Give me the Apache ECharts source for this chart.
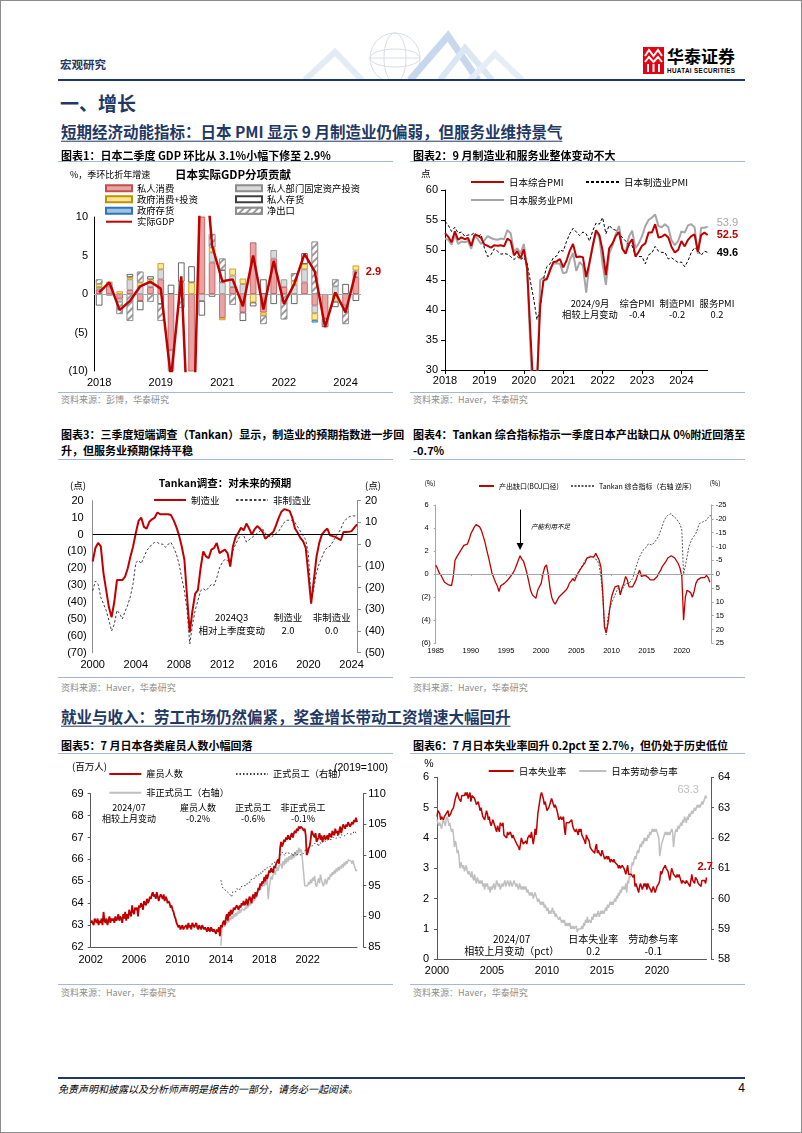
<!DOCTYPE html>
<html><head><meta charset="utf-8">
<script src="https://cdn.jsdelivr.net/npm/echarts/dist/echarts.min.js"></script>
<style>
html,body{margin:0;padding:0;background:#fff;}
#page{position:relative;width:802px;height:1133px;overflow:hidden;background:#fff;font-family:"Noto Sans CJK SC","Liberation Sans",sans-serif;}
.t{position:absolute;white-space:nowrap;line-height:1.2;color:#000;z-index:5;}
.ln{position:absolute;z-index:4;}
.ch{position:absolute;z-index:2;}
#frame{position:absolute;left:0;top:0;width:802px;height:1133px;box-sizing:border-box;border:1px solid #8c8c8c;z-index:10;pointer-events:none;}
</style></head><body>
<div id="page">
<div id="frame"></div>
<svg style="position:absolute;left:300px;top:28px;z-index:1" width="240" height="52">
 <polyline points="5,52 35,24 62,52" fill="none" stroke="#e3ebf5" stroke-width="6"/>
 <circle cx="95" cy="30" r="25" fill="none" stroke="#d9dee6" stroke-width="1"/>
 <ellipse cx="95" cy="30" rx="11" ry="25" fill="none" stroke="#d9dee6"/>
 <ellipse cx="95" cy="30" rx="25" ry="9" fill="none" stroke="#d9dee6"/>
 <line x1="70" y1="30" x2="120" y2="30" stroke="#d9dee6"/>
 <polyline points="110,52 148,8 178,52" fill="none" stroke="#c7d8ee" stroke-width="7"/>
 <polyline points="140,52 165,20 192,52" fill="none" stroke="#dbe6f3" stroke-width="6"/>
 <polyline points="170,52 195,26 222,52" fill="none" stroke="#e6edf6" stroke-width="6"/>
</svg>
<svg style="position:absolute;left:643px;top:47px;z-index:3" width="21" height="27">
 <rect x="0" y="0" width="21" height="27" fill="#E60012"/>
 <polyline points="2,9 6,3 10.5,9 15,3 19,9" fill="none" stroke="#fff" stroke-width="2"/>
 <polyline points="2,15 6,10 10.5,15 15,10 19,15" fill="none" stroke="#fff" stroke-width="2"/>
 <rect x="4" y="17" width="2" height="8" fill="#fff"/><rect x="9.5" y="17" width="2" height="8" fill="#fff"/><rect x="15" y="17" width="2" height="8" fill="#fff"/>
</svg>
<div id="c1" class="ch" style="left:58px;top:162px;width:337px;height:228px"></div>
<div id="c2" class="ch" style="left:410px;top:162px;width:335px;height:228px"></div>
<div id="c3" class="ch" style="left:58px;top:462px;width:337px;height:214px"></div>
<div id="c4" class="ch" style="left:410px;top:462px;width:335px;height:214px"></div>
<div id="c5" class="ch" style="left:58px;top:754px;width:337px;height:228px"></div>
<div id="c6" class="ch" style="left:410px;top:754px;width:335px;height:228px"></div>
</div>
<script>
// ================= DATA =================
// Chart 1: Japan real GDP contributions, 2018Q1..2024Q2 (% qoq saar)
const c1Cons   = [0.6, 1.0, -0.6, 0.5, -0.9, 0.9, 1.9, -7.3, null, -18, 18, 4.1, -3.1, 0.9, -2.4, 6.7, -2.4, 4.6, 0.9, null, 1.5, -1.5, -3.2, null, -1.5, 2.2];
const c1Inv    = [0.3, 0.4, -0.4, 1.4, 1.0, 0.5, 1.3, -3.0, 1.5, -4, -0.9, 1.3, 1.5, 1.5, 1.3, null, null, 1.1, 1.0, 1.2, 1.7, -1.0, null, 1.0, null, 0.85];
const c1Gov    = [0.4, 0.2, 0.35, 0.3, 0.5, 0.5, 0.8, null, 0.1, 1.5, 1.0, 0.65, -0.3, 0.9, 0.7, -1.1, -0.4, null, null, 0.5, 0.7, -0.9, null, -1.0, null, 0.65];
const c1Stock  = [-1.5, null, null, 0.4, -1.2, 0.4, -1.3, 1.2, 2.5, 2.1, -1.9, -0.35, 1.6, null, -1.1, -0.5, 1.9, -1.3, null, -1.3, 1.4, null, -1.1, -0.7, 1.3, -0.9];
const c1GovStk = [null, null, null, null, null, null, null, null, null, null, null, null, null, null, null, null, null, null, null, null, null, -0.3, null, null, null, null];
const c1Nx     = [0.6, -0.2, -1.6, -3.5, 1.4, -1.0, -2.2, null, -1.8, -8, 5, 1.75, 1.5, -1.4, null, null, -1.1, null, -3.3, 1.0, null, 6.8, null, 0.9, -2.4, null];
const c1Gdp    = [0.2, 1.5, -2.1, -0.9, 1.0, 1.6, 0.7, -11, 2.3, -28, 22, 6.3, 1.65, 1.9, -1.6, 5.0, -2.0, 4.3, -1.3, 1.3, 5.2, 2.9, -4.3, 0.2, -2.4, 2.9];

// Chart 2: PMI, 2018-01..2024-09
const c2Comp = [52.8,52.2,51.3,53.1,51.7,52.1,51.8,52.0,50.7,52.5,52.4,52.0,
 50.9,50.7,50.4,50.8,50.7,50.8,50.6,51.9,51.5,49.1,49.8,48.6,
 50.1,47.0,36.2,25.8,27.8,40.8,44.9,45.2,46.6,48.0,48.1,48.5,
 47.1,48.2,49.9,51.0,48.8,48.9,48.8,45.5,47.9,50.7,53.3,52.5,
 49.9,45.8,50.3,51.1,52.3,53.0,50.2,49.4,51.0,51.8,48.9,49.7,
 50.7,51.1,52.9,52.9,54.3,52.1,52.2,52.6,52.1,50.5,49.6,50.0,
 51.5,50.6,51.7,52.3,52.6,49.7,52.5,52.9,52.5];
const c2Mfg = [54.8,54.1,53.1,53.8,52.8,53.0,52.3,52.5,52.5,52.9,52.2,52.6,
 50.3,48.9,49.2,50.2,49.8,49.3,49.4,49.3,48.9,48.4,48.9,48.4,
 48.8,47.8,44.8,41.9,38.4,40.1,45.2,47.2,47.7,48.7,49.0,50.0,
 49.8,51.4,52.7,53.6,53.0,52.4,53.0,52.7,51.5,53.2,54.5,54.3,
 55.4,52.7,54.1,53.5,53.3,52.7,52.1,51.5,50.8,50.7,49.0,48.9,
 48.9,47.7,49.2,49.5,50.6,49.8,49.6,49.6,48.5,48.7,48.3,47.9,
 48.0,47.2,48.2,49.6,50.4,50.0,49.1,49.8,49.6];
const c2Serv = [51.9,51.7,50.9,52.5,51.0,51.4,51.3,51.5,50.2,52.4,51.8,51.0,
 51.6,52.3,52.0,51.8,51.7,51.9,51.8,53.3,52.8,49.7,50.3,49.4,
 51.0,46.8,33.8,21.5,26.5,45.0,45.4,45.0,46.9,47.7,47.8,47.7,
 46.1,46.3,48.3,49.5,46.5,48.0,47.4,42.9,47.8,50.7,53.0,52.1,
 47.6,44.2,49.4,50.7,52.6,54.0,50.3,49.5,52.2,53.2,50.3,51.1,
 52.3,54.0,55.0,55.4,55.9,54.0,53.8,54.3,53.8,51.6,50.8,51.5,
 53.1,52.9,54.1,54.3,53.8,49.4,53.7,53.7,53.9];

// Chart 3: Tankan forecast DI, 2000Q1..2024Q3
const c3Mfg = [-16,-8,-5,-7, -23,-33,-43,-49, -40,-27,-27,-27, -25,-20,-13,-7,
 1,8,10,4.5, 3.5,7.5,9,10, 13,12,12,12, 12,11.5,8.5,4.5,
 -0.4,-7,-15,-37, -58,-45,-35,-33, -20,-10,-13,-14, -9,-8,-5,-11,
 -10,-9,-11,-19, -7,-1.5,1,4, 2.5,6.5,3.5,0, 3,5,3.5,1.5,
 -2.5,-1,0.2,1.6, 5.5,10,13.5,15, 14.5,14,10,3.5, 1,-2,-4,-8,
 -24,-41,-27,-13, -5,0,2,3.5, -0.5,-1,-1.4,-2.4, -3.4,1.5,1.5,1.6, 2,4,6];
const c3Non = [-21.5,-17,-18.5,-24.5, -27.5,-30.5,-35,-40, -37,-30.5,-32,-34.5, -31,-28,-24,-18,
 -8.5,-7.5,-9,-6, -3,-1.5,0,0.8, 0.8,0,0,-1.5, 0,0.8,-1.5,-4.5,
 -9,-15.5,-21.5,-30.5, -46,-37,-30.5,-26, -21.5,-20.5,-21.5,-20, -18.5,-19,-15.5,-11,
 -8.5,-7,-7.5,-9, -3,0,2.3,4.6, 4,1,2,3, 4,5,6,7,
 5,4,3,4, 5,6,8,10, 11,11,11,10, 8,6,4,2,
 -5,-26,-20,-13, -9,-6,-3,-1.5, -1,1,3,5, 7,10,11.5,12.5, 13,13,13];

// Chart 4: output gap (BOJ), 1985Q1..2024Q1 ; Tankan composite (right, inverted), 2004Q2..2024Q2
const c4Gap = [0.8,0.5,0.1,-0.1, -0.2,-0.7,-0.8,-0.9, -1.0,-1.0,-0.2,1.2, 1.5,1.6,2.0,2.1,
 2.5,2.6,2.6,3.0, 3.5,3.8,4.1,4.3, 4.3,4.1,3.8,3.3, 2.8,2.1,1.5,0.8,
 0.1,-0.3,-0.7,-1.0, -1.5,-1.0,-1.0,-0.8, -0.7,-0.5,-0.5,-0.1, 0.1,0.4,0.8,1.2,
 1.6,1.3,1.1,0.6, 0.0,-0.7,-1.4,-1.8, -1.9,-2.1,-1.4,-1.1, -0.8,0.0,0.6,0.8,
 0.0,-1.2,-2.0,-2.4, -2.6,-2.5,-2.0,-1.9, -1.7,-1.6,-1.4,-1.2, -0.8,-0.6,-0.4,-0.6,
 -0.2,0.1,0.35,0.6, 0.8,1.0,1.4,1.5, 1.5,1.6,1.5,1.8, 1.7,1.2,0.6,-1.5,
 -4.6,-5.1,-4.3,-3.0, -2.0,-1.5,-1.1,-1.0, -1.0,-1.8,-1.2,-0.8, -0.2,-0.5,-1.1,-1.2,
 -1.1,-0.8,-0.5,0.0, 0.35,-0.2,-0.2,-0.1, 0.0,-0.3,-0.5,-0.5, -0.5,-0.5,-0.2,0.1,
 0.35,0.7,0.9,1.1, 1.4,1.5,1.6,1.7, 1.4,1.3,0.9,0.5, -0.2,-4.0,-2.0,-1.4,
 -1.4,-1.6,-2.0,-1.5, -0.8,-0.5,-0.4,-0.3, -0.2,-0.3,-0.1,-0.3, -0.7];
const c4Tankan = [2.5,1.8,1.2, 0.5,-0.5,-1.5,-2.5, -3.9,-5.0,-5.5,-6.5, -6.9,-6.5,-5.7,-5.5,
 -5.0,-3.0,1.0,8.0, 17.8,22.0,15.4,12.5, 10.6,9.0,7.6,6.0, 4.6,7.0,5.8,4.5,
 3.4,3.0,3.4,3.0, 1.6,-0.5,-2.7,-4.5, -6.3,-7.5,-8.7,-9.0, -9.9,-11.0,-11.7,-10.5,
 -11.0,-12.0,-12.9,-14.0, -15.9,-17.5,-19.5,-20.5, -21.3,-21.0,-21.9,-21.0, -20.7,-20.0,-19.5,-18.0,
 -15.9,0.0,-3.0,-6.3, -9.9,-11.5,-12.9,-13.5, -14.7,-16.5,-18.3,-18.5, -18.9,-19.0,-19.5,-20.5, -21.3,-20.7];

// Chart 5: employees (mn), 2002-01..2024-07 ; regular / non-regular (2019=100), 2013-01..2024-07
const c5Emp = [63.1,63.2,63.2,63.0,63.3,63.2,63.1,63.3,63.0,63.2,63.1,63.3,
 63.0,63.6,63.2,63.1,63.3,63.0,63.2,63.4,63.1,63.3,63.2,63.3,
 63.1,63.4,63.2,63.3,63.5,63.2,63.4,63.3,63.1,63.5,63.3,63.6,
 63.2,63.5,63.3,63.7,63.5,63.4,63.9,63.6,63.5,63.8,63.7,63.8,
 63.4,63.9,63.8,64.0,63.9,63.7,64.1,64.0,63.9,64.2,64.0,64.1,
 64.3,64.2,64.4,64.5,64.3,64.4,64.2,64.5,64.3,64.1,64.3,64.4,
 64.3,64.2,64.4,64.1,64.3,64.2,64.0,64.1,64.0,63.8,63.9,63.7,
 63.6,63.4,63.3,63.1,63.0,62.9,63.0,62.8,62.9,63.0,62.8,62.9,
 62.9,63.0,62.8,63.1,62.9,63.0,62.8,63.1,63.0,62.9,63.0,63.1,
 62.9,62.8,63.0,62.9,62.8,63.0,62.9,62.8,62.9,62.8,62.7,62.9,
 62.8,62.7,62.9,62.8,62.7,62.8,62.7,62.6,62.8,62.7,62.9,62.5,
 63.0,62.9,63.1,63.2,63.0,63.3,63.5,63.2,63.6,63.4,63.7,63.5,
 63.6,63.8,63.7,63.7,63.9,63.8,63.7,63.9,63.8,64.0,63.9,64.1,
 63.9,64.0,64.2,63.9,64.1,64.3,64.2,64.0,64.3,64.4,64.2,64.5,
 64.3,64.5,64.7,64.6,64.9,64.8,65.0,64.9,65.2,65.0,65.3,65.1,
 65.3,65.5,65.4,65.6,65.5,65.4,65.7,65.6,65.8,65.9,66.0,65.8,
 66.5,66.8,66.6,66.7,66.9,66.8,67.0,66.9,67.1,67.0,66.9,67.1,
 67.2,67.0,67.2,67.3,67.2,67.4,67.3,67.5,67.4,67.5,67.5,67.4,
 67.3,67.4,67.1,66.2,66.3,66.5,66.6,66.9,67.3,67.2,67.1,67.0,
 67.2,66.8,66.9,67.0,67.2,66.9,67.1,66.8,67.0,67.1,66.9,67.0,
 67.1,66.9,67.2,67.1,67.0,67.3,67.2,67.1,67.4,67.2,67.3,67.1,
 67.3,67.5,67.2,67.4,67.6,67.5,67.4,67.6,67.5,67.7,67.6,67.5,
 67.6,67.7,67.6,67.8,67.7,67.9,67.7];
const c5Reg = [95.9,95.2,94.6,94.3,94.8,94.2,94.0,94.5,93.8,94.1,93.5,93.2,
 94.0,93.8,94.3,94.0,94.5,94.2,94.6,94.3,94.8,94.5,94.9,95.0,
 94.8,95.2,95.0,95.5,95.3,95.8,95.6,96.1,95.9,96.4,96.2,96.6,
 96.4,96.8,96.6,97.1,96.9,97.3,97.0,97.6,97.4,97.8,97.6,98.0,
 97.9,98.3,98.1,98.5,98.4,98.8,98.6,99.0,98.9,99.3,99.1,99.5,
 99.3,99.8,100.5,100.2,100.6,99.9,100.4,100.1,100.7,100.3,100.0,100.5,
 100.2,99.8,100.1,100.4,100.0,99.9,100.3,100.1,99.8,100.2,100.0,99.9,
 100.3,100.5,101.0,100.8,101.3,101.0,101.5,101.2,101.8,101.5,101.2,101.9,
 101.6,102.1,101.8,101.4,102.0,101.7,102.2,101.9,102.4,102.1,102.5,102.2,
 102.0,102.6,102.3,102.8,102.5,102.2,102.9,102.6,103.0,102.7,103.2,102.9,
 103.1,102.8,103.3,103.0,103.4,103.1,102.8,103.3,103.5,103.2,103.6,103.4,
 103.2,103.7,103.5,103.9,104.1,103.8,103.5];
const c5NonReg = [85.2,88.0,88.5,89.0,88.3,89.2,88.8,89.5,89.0,89.8,89.4,90.0,
 89.6,90.3,89.9,90.5,90.1,90.8,90.4,91.0,90.6,91.2,90.9,91.5,
 91.0,91.6,91.2,91.9,91.5,92.2,91.8,92.6,92.1,93.0,92.5,93.4,
 93.0,93.8,94.5,95.0,94.3,95.2,94.8,95.5,94.9,95.8,95.2,96.0,
 92.8,94.5,95.8,96.5,96.0,97.0,97.5,96.8,97.6,98.0,97.4,98.2,
 98.0,98.6,97.8,99.0,98.3,99.4,98.6,99.6,98.9,99.8,99.2,100.0,
 99.3,100.2,99.5,100.5,99.8,100.8,100.1,101.2,100.4,101.0,100.5,100.2,
 100.2,95.0,94.8,95.3,95.0,95.6,95.2,96.0,95.4,96.3,95.8,96.6,
 95.2,94.8,95.6,96.2,95.4,96.8,96.0,95.3,94.9,95.6,96.1,95.2,
 95.8,96.4,96.0,96.9,96.5,97.2,96.8,97.5,97.0,97.8,97.3,98.0,
 97.5,98.2,97.8,98.5,98.0,98.8,98.3,99.0,98.6,99.2,98.9,99.3,
 99.0,98.6,99.1,98.4,97.9,97.4,97.6];
const c5Ticks = ['2002','2006','2010','2014','2018','2022'];

// Chart 6: unemployment rate (%) and labour participation (%), 2000-01..2024-07
const c6Unemp = [4.7,4.9,4.9,4.8,4.6,4.7,4.7,4.6,4.7,4.7,4.8,4.8,
 4.9,4.7,4.7,4.8,4.9,4.9,5.0,5.0,5.3,5.4,5.5,5.5,
 5.3,5.3,5.2,5.4,5.4,5.4,5.4,5.5,5.4,5.5,5.3,5.4,
 5.5,5.2,5.4,5.4,5.4,5.3,5.3,5.1,5.1,5.2,5.2,4.9,
 5.0,5.0,4.7,4.7,4.6,4.6,4.9,4.8,4.6,4.7,4.5,4.4,
 4.5,4.6,4.5,4.4,4.4,4.2,4.4,4.3,4.2,4.5,4.5,4.4,
 4.5,4.1,4.1,4.1,4.0,4.2,4.1,4.1,4.2,4.1,4.0,4.1,
 4.0,4.0,4.0,3.8,3.8,3.7,3.6,3.8,4.0,4.0,3.8,3.8,
 3.8,3.9,3.8,4.0,4.0,4.1,4.0,4.2,4.0,3.8,4.0,4.3,
 4.1,4.4,4.8,5.0,5.2,5.4,5.5,5.4,5.3,5.1,5.2,5.2,
 4.9,4.9,5.0,5.1,5.2,5.3,5.2,5.1,5.0,5.1,5.1,4.9,
 4.9,4.6,4.6,4.7,4.6,4.6,4.7,4.3,4.1,4.5,4.5,4.5,
 4.5,4.5,4.5,4.6,4.4,4.3,4.3,4.2,4.3,4.2,4.1,4.3,
 4.2,4.3,4.1,4.1,4.1,3.9,3.8,4.1,4.0,4.0,3.9,3.7,
 3.7,3.6,3.6,3.6,3.5,3.7,3.8,3.5,3.6,3.5,3.5,3.4,
 3.6,3.5,3.4,3.3,3.3,3.4,3.3,3.4,3.4,3.2,3.3,3.3,
 3.2,3.3,3.2,3.2,3.2,3.1,3.0,3.1,3.0,3.0,3.1,3.1,
 3.0,2.9,2.8,2.8,3.1,2.8,2.8,2.8,2.8,2.8,2.7,2.8,
 2.4,2.5,2.5,2.5,2.2,2.4,2.5,2.4,2.3,2.4,2.5,2.4,
 2.5,2.3,2.5,2.4,2.4,2.3,2.2,2.2,2.4,2.4,2.2,2.2,
 2.4,2.4,2.5,2.6,2.9,2.8,2.9,3.0,3.0,3.1,3.0,3.0,
 2.9,2.9,2.6,2.8,3.0,2.9,2.8,2.8,2.8,2.7,2.8,2.7,
 2.8,2.7,2.6,2.5,2.6,2.6,2.6,2.5,2.6,2.6,2.5,2.5,
 2.4,2.6,2.8,2.6,2.6,2.5,2.7,2.7,2.6,2.5,2.5,2.5,
 2.4,2.6,2.6,2.6,2.6,2.5,2.7];
const c6Part = [62.6,62.5,62.4,62.5,62.4,62.3,62.5,62.6,62.5,62.4,62.6,62.7,
 62.6,62.4,62.5,62.3,62.2,62.3,62.1,61.7,61.9,61.8,61.5,61.6,
 61.4,61.0,61.2,61.1,61.0,61.1,60.9,61.0,61.1,60.9,60.8,60.9,
 60.8,60.7,60.9,60.7,60.6,60.8,60.6,60.5,60.7,60.6,60.5,60.6,
 60.5,60.6,60.4,60.5,60.3,60.5,60.4,60.5,60.3,60.4,60.2,60.4,
 60.3,60.4,60.5,60.3,60.4,60.6,60.5,60.4,60.5,60.3,60.4,60.5,
 60.4,60.5,60.6,60.4,60.5,60.6,60.5,60.4,60.6,60.5,60.4,60.5,
 60.6,60.5,60.4,60.5,60.4,60.3,60.5,60.4,60.3,60.4,60.3,60.4,
 60.3,60.4,60.2,60.3,60.2,60.1,60.2,60.1,60.2,60.0,60.1,60.2,
 60.1,60.0,59.9,60.0,59.9,59.8,59.9,59.8,59.9,59.7,59.8,59.7,
 59.6,59.7,59.5,59.6,59.5,59.6,59.7,59.5,59.6,59.4,59.5,59.4,
 59.4,59.3,59.4,59.3,59.2,59.3,59.2,59.3,59.1,59.2,59.1,59.2,
 59.1,59.2,59.0,59.1,59.0,59.1,59.0,59.0,59.1,58.9,59.0,59.0,
 58.95,59.0,59.1,59.0,59.2,59.1,59.3,59.2,59.4,59.2,59.3,59.3,
 59.2,59.4,59.3,59.5,59.4,59.5,59.4,59.5,59.6,59.4,59.5,59.6,
 59.5,59.6,59.5,59.6,59.7,59.6,59.8,59.7,59.8,59.9,59.8,59.9,
 59.8,59.9,60.0,59.9,60.1,60.0,60.2,60.1,60.3,60.2,60.4,60.3,
 60.4,60.3,60.5,60.2,60.6,60.5,60.8,60.7,61.0,61.2,61.1,61.3,
 61.4,61.3,61.5,61.6,61.5,61.7,61.8,61.7,61.9,61.8,62.0,61.9,
 62.0,61.9,62.1,62.0,62.2,62.1,62.2,62.3,62.2,62.3,62.2,62.3,
 62.2,62.1,62.0,61.4,61.6,61.8,61.9,62.0,62.1,62.2,62.1,62.2,
 62.1,62.2,62.1,62.2,62.3,62.2,61.7,62.0,62.2,62.3,62.2,62.4,
 62.3,62.4,62.5,62.4,62.6,62.5,62.7,62.6,62.5,62.7,62.6,62.8,
 62.7,62.8,62.9,62.8,62.9,63.0,62.9,63.0,63.1,63.0,63.1,63.0,
 63.1,63.2,63.1,63.2,63.3,63.4,63.3];

// ================= CATEGORIES =================
function quarters(y0, q0, y1, q1) { const a = []; for (let y = y0; y <= y1; y++) for (let q = 1; q <= 4; q++) { if (y === y0 && q < q0) continue; if (y === y1 && q > q1) break; a.push(y + 'Q' + q); } return a; }
function months(y0, y1, m1) { const a = []; for (let y = y0; y <= y1; y++) for (let m = 1; m <= 12; m++) { if (y === y1 && m > m1) break; a.push(y + '-' + (m < 10 ? '0' : '') + m); } return a; }
const c1Cats = quarters(2018, 1, 2024, 2);
const c2Cats = months(2018, 2024, 9);
const c3Cats = quarters(2000, 1, 2024, 3);
const c4Cats = quarters(1985, 1, 2024, 2);
const c5Cats = months(2002, 2024, 7);
const c6Cats = months(2000, 2024, 7);
const pad = n => new Array(n).fill(null);

// ================= PAGE TEXT =================
const page = document.getElementById('page');
const CJK = '"Noto Sans CJK SC"';
const LAT = '"Liberation Sans", Arial, sans-serif';
function T(x, y, s, o) {
  o = o || {};
  const d = document.createElement('div');
  d.className = 't'; d.textContent = s;
  d.style.left = x + 'px'; d.style.top = y + 'px';
  d.style.fontSize = (o.fs || 10) + 'px';
  if (o.b) d.style.fontWeight = 'bold';
  if (o.c) d.style.color = o.c;
  if (o.ff) d.style.fontFamily = o.ff;
  if (o.i) d.style.fontStyle = 'italic';
  if (o.u) { d.style.textDecoration = 'underline'; d.style.textUnderlineOffset = '3px'; d.style.textDecorationThickness = '1px'; }
  if (o.ls) d.style.letterSpacing = o.ls + 'px';
  const ax = o.a === 'c' ? '-50%' : o.a === 'r' ? '-100%' : '0';
  d.style.transform = 'translate(' + ax + ',-50%)';
  page.appendChild(d);
}
function L(x1, x2, y, c, w) {
  const d = document.createElement('div'); d.className = 'ln';
  d.style.left = x1 + 'px'; d.style.top = y + 'px'; d.style.width = (x2 - x1) + 'px';
  d.style.height = (w || 1) + 'px'; d.style.background = c; page.appendChild(d);
}
const NAVY = '#1F3864', SEP = '#A3B7D6', SRC = '#8c8c8c';
T(60, 65, '宏观研究', {fs: 11.5, b: 1, c: NAVY});
L(58, 745, 79, NAVY, 2);
T(667, 56, '华泰证券', {fs: 17, b: 1});
T(667, 71, 'HUATAI SECURITIES', {fs: 6.3, b: 1, ff: LAT, ls: 0.35});
T(60, 103, '一、增长', {fs: 19, b: 1, c: NAVY});
T(61, 131, '短期经济动能指标：日本 PMI 显示 9 月制造业仍偏弱，但服务业维持景气', {fs: 15.5, b: 1, c: NAVY, u: 1});
T(61, 155.5, '图表1：日本二季度 GDP 环比从 3.1%小幅下修至 2.9%', {fs: 11, b: 1});
T(413, 155.5, '图表2：9 月制造业和服务业整体变动不大', {fs: 11, b: 1});
L(58, 393, 161, SEP); L(410, 745, 161, SEP);
L(58, 393, 392, SEP); L(410, 745, 392, SEP);
T(61, 400, '资料来源：彭博，华泰研究', {fs: 9, c: SRC});
T(413, 400, '资料来源：Haver，华泰研究', {fs: 9, c: SRC});
T(61, 435, '图表3：三季度短端调查（Tankan）显示，制造业的预期指数进一步回', {fs: 11, b: 1});
T(61, 451, '升，但服务业预期保持平稳', {fs: 11, b: 1});
T(413, 435, '图表4：Tankan 综合指标指示一季度日本产出缺口从 0%附近回落至', {fs: 11, b: 1});
T(413, 451, '-0.7%', {fs: 11, b: 1});
L(58, 393, 459, SEP); L(410, 745, 459, SEP);
L(58, 393, 677, SEP); L(410, 745, 677, SEP);
T(61, 688, '资料来源：Haver，华泰研究', {fs: 9, c: SRC});
T(413, 688, '资料来源：Haver，华泰研究', {fs: 9, c: SRC});
T(61, 716, '就业与收入：劳工市场仍然偏紧，奖金增长带动工资增速大幅回升', {fs: 15.5, b: 1, c: NAVY, u: 1});
T(61, 746, '图表5：7 月日本各类雇员人数小幅回落', {fs: 11, b: 1});
T(413, 746, '图表6：7 月日本失业率回升 0.2pct 至 2.7%，但仍处于历史低位', {fs: 11, b: 1});
L(58, 393, 752.5, SEP); L(410, 745, 752.5, SEP);
L(58, 393, 984, SEP); L(410, 745, 984, SEP);
T(61, 993, '资料来源：Haver，华泰研究', {fs: 9, c: SRC});
T(413, 993, '资料来源：Haver，华泰研究', {fs: 9, c: SRC});
L(58, 745, 1077, NAVY, 2);
T(58, 1089, '免责声明和披露以及分析师声明是报告的一部分，请务必一起阅读。', {fs: 10, i: 1});
T(745, 1088, '4', {fs: 12, a: 'r', ff: LAT});

// chart-internal annotations (page coordinates)
T(70, 175, '%，季环比折年增速', {fs: 9});
T(233, 175, '日本实际GDP分项贡献', {fs: 11.5, b: 1, a: 'c'});
T(425.7, 174, '点', {fs: 9.5, a: 'c'});
[['2024/9月', 590], ['综合PMI', 637], ['制造PMI', 677], ['服务PMI', 717]].forEach(p => T(p[1], 304, p[0], {fs: 9.3, a: 'c'}));
[['相较上月变动', 590], ['-0.4', 637], ['-0.2', 677], ['0.2', 717]].forEach(p => T(p[1], 315, p[0], {fs: 9.3, a: 'c'}));
T(225, 483, 'Tankan调查：对未来的预期', {fs: 10.5, b: 1, a: 'c'});
T(78, 486, '(点)', {fs: 9.5, a: 'c'});
T(373, 486, '(点)', {fs: 9.5, a: 'c'});
[['2024Q3', 231.7], ['制造业', 288], ['非制造业', 331.7]].forEach(p => T(p[1], 618, p[0], {fs: 9.5, a: 'c'}));
[['相对上季度变动', 231.7], ['2.0', 288], ['0.0', 331.7]].forEach(p => T(p[1], 630.5, p[0], {fs: 9.5, a: 'c'}));
T(430, 483, '(%)', {fs: 7, a: 'c'});
T(715, 483, '(%)', {fs: 7, a: 'c'});
T(531, 527, '产能利用不足', {fs: 6.5, i: 1});
T(72, 766.5, '(百万人)', {fs: 9.5});
T(388, 766.5, '(2019=100)', {fs: 10.5, a: 'r', ff: LAT});
[['2024/07', 129], ['雇员人数', 198], ['正式员工', 253], ['非正式员工', 303]].forEach(p => T(p[1], 808, p[0], {fs: 9, a: 'c'}));
[['相较上月变动', 129], ['-0.2%', 198], ['-0.6%', 253], ['-0.1%', 303]].forEach(p => T(p[1], 819, p[0], {fs: 9, a: 'c'}));
T(429, 762.5, '%', {fs: 10.5, a: 'c', ff: LAT});
[['2024/07', 511.7], ['日本失业率', 593.3], ['劳动参与率', 653.3]].forEach(p => T(p[1], 939.3, p[0], {fs: 10, a: 'c'}));
[['相较上月变动（pct）', 511.7], ['0.2', 593.3], ['-0.1', 653.3]].forEach(p => T(p[1], 951, p[0], {fs: 10, a: 'c'}));

// ================= CHART HELPERS =================
const paren = v => v < 0 ? '(' + (-v) + ')' : String(v);
const parenPad = v => v < 0 ? '(' + (-v) + ')' : v + ' ';
function lab(fs, extra) { return Object.assign({color: '#000', fontSize: fs, fontFamily: LAT}, extra || {}); }
// bar legend item (square icon)
function lg(name, left, top, w, h, fs) {
  return {data: [{name: name, icon: 'rect'}], left: left, top: top, itemWidth: w, itemHeight: h || 6, padding: 0, itemGap: 0, selectedMode: false,
    textStyle: {fontSize: fs || 9.3, color: '#000', fontFamily: CJK, lineHeight: 12, padding: [0, 0, 0, 0]}};
}
// line legend item: line only, no symbol
function lgl(name, left, top, w, fs) {
  const o = lg(name, left, top, w, 10, fs);
  o.data = [name];
  o.itemStyle = {opacity: 0, borderWidth: 0};
  return o;
}
const grid = (l, t, w, h) => ({left: l, top: t, width: w, height: h, containLabel: false, outerBoundsMode: 'none'});
function mk(id, opt) { opt.animation = false; const c = echarts.init(document.getElementById(id), null, {renderer: 'canvas'}); c.setOption(opt); }
const RED = '#C00000';
const noSplit = {show: false};

// ================= CHART 1 =================
function bar(name, data, color, border, extra) {
  return Object.assign({type: 'bar', name: name, data: data, stack: 'g', barWidth: 6.5,
    itemStyle: {color: color, borderColor: border, borderWidth: 0.8}}, extra || {});
}
mk('c1', {
  grid: grid(36, 55, 267, 154),
  legend: [
    lg('私人消费', 47, 20.3, 26, 6), lg('政府消费+投资', 47, 31.3, 26, 6), lg('政府存货', 47, 42.7, 26, 6), lgl('实际GDP', 47, 53.7, 26),
    lg('私人部门固定资产投资', 177, 20.3, 26, 6), lg('私人存货', 177, 31.3, 26, 6), lg('净出口', 177, 42.7, 26, 6)
  ],
  xAxis: {type: 'category', data: c1Cats, boundaryGap: true, axisLine: {show: false}, axisTick: {show: false},
    axisLabel: lab(11, {interval: 5, formatter: v => v.slice(0, 4), margin: 6}), splitLine: noSplit},
  yAxis: {type: 'value', min: -10, max: 10, interval: 5, axisLine: {show: true, lineStyle: {color: '#000', width: 1}},
    axisTick: {show: false}, splitLine: noSplit, axisLabel: lab(11, {formatter: paren, margin: 6})},
  series: [
    bar('私人消费', c1Cons, '#E8A4A4', '#C0504D', {markLine: {silent: true, symbol: ['none', 'none'], label: {show: false},
      lineStyle: {color: '#a6a6a6', width: 1, type: 'solid'}, data: [{yAxis: 0}]}}),
    bar('私人部门固定资产投资', c1Inv, '#D9D9D9', '#8C8C8C'),
    bar('政府消费+投资', c1Gov, '#FFE699', '#BF9000'),
    bar('私人存货', c1Stock, '#FFFFFF', '#404040'),
    bar('政府存货', c1GovStk, '#9DC3E6', '#2E75B6'),
    bar('净出口', c1Nx, '#FFFFFF', '#8C8C8C', {itemStyle: {color: '#FFFFFF', borderColor: '#8C8C8C', borderWidth: 0.8,
      decal: {symbol: 'rect', symbolSize: 1, color: '#9a9a9a', backgroundColor: '#FFFFFF', dashArrayX: [1, 0], dashArrayY: [1.2, 2.2], rotation: -Math.PI / 4}}}),
    {type: 'line', name: '实际GDP', data: c1Gdp, symbol: 'none', showSymbol: false, z: 10, clip: true,
      lineStyle: {color: RED, width: 2.5}, itemStyle: {color: RED},
      endLabel: {show: true, formatter: p => p.value, color: RED, fontWeight: 'bold', fontSize: 11, fontFamily: LAT, distance: 10}}
  ]
});

// ================= CHART 2 =================
mk('c2', {
  grid: grid(35, 28, 262.7, 180),
  legend: [lgl('日本综合PMI', 60, 14, 33, 9.5), lgl('日本制造业PMI', 175, 14, 33, 9.5), lgl('日本服务业PMI', 60, 32, 33, 9.5)],
  xAxis: {type: 'category', data: c2Cats, boundaryGap: false, axisLine: {lineStyle: {color: '#000'}},
    axisTick: {show: true, interval: 11, length: 4, lineStyle: {color: '#000'}},
    axisLabel: lab(11, {interval: 11, formatter: v => v.slice(0, 4), margin: 5}), splitLine: noSplit},
  yAxis: {type: 'value', min: 30, max: 60, interval: 5, axisLine: {show: true, lineStyle: {color: '#000'}},
    axisTick: {show: true, length: 4, lineStyle: {color: '#000'}}, splitLine: noSplit, axisLabel: lab(11, {margin: 7})},
  series: [
    {type: 'line', name: '日本服务业PMI', data: c2Serv, symbol: 'none', showSymbol: false, z: 2, lineStyle: {color: '#A6A6A6', width: 2}, itemStyle: {color: '#A6A6A6'},
      endLabel: {show: true, formatter: p => p.value.toFixed(1), color: '#A6A6A6', fontSize: 11, fontFamily: LAT, distance: 9, offset: [0, -4]}},
    {type: 'line', name: '日本制造业PMI', data: c2Mfg, symbol: 'none', showSymbol: false, z: 3, lineStyle: {color: '#000', width: 1, type: [3, 2]}, itemStyle: {color: '#000'},
      endLabel: {show: true, formatter: p => p.value.toFixed(1), color: '#000', fontWeight: 'bold', fontSize: 11, fontFamily: LAT, distance: 9, offset: [0, 1]}},
    {type: 'line', name: '日本综合PMI', data: c2Comp, symbol: 'none', showSymbol: false, z: 4, lineStyle: {color: RED, width: 2}, itemStyle: {color: RED},
      endLabel: {show: true, formatter: p => p.value.toFixed(1), color: RED, fontWeight: 'bold', fontSize: 11, fontFamily: LAT, distance: 9}}
  ]
});

// ================= CHART 3 =================
mk('c3', {
  grid: grid(34.7, 38.7, 264.3, 152),
  legend: [lgl('制造业', 95, 32, 32, 9.5), lgl('非制造业', 177, 32, 32, 9.5)],
  xAxis: {type: 'category', data: c3Cats, boundaryGap: false, axisLine: {lineStyle: {color: '#8c8c8c'}}, axisTick: {show: false},
    axisLabel: lab(11, {interval: 15, formatter: v => v.slice(0, 4), margin: 7}), splitLine: noSplit},
  yAxis: [
    {type: 'value', min: -70, max: 20, interval: 10, axisLine: {show: true, lineStyle: {color: '#8c8c8c'}}, axisTick: {show: false},
      splitLine: noSplit, axisLabel: lab(11, {formatter: parenPad, margin: 6})},
    {type: 'value', position: 'right', min: -50, max: 20, interval: 10, axisLine: {show: true, lineStyle: {color: '#8c8c8c'}},
      axisTick: {show: true, length: 4, lineStyle: {color: '#8c8c8c'}}, splitLine: noSplit, axisLabel: lab(11, {formatter: paren, margin: 8})}
  ],
  series: [
    {type: 'line', name: '非制造业', data: c3Non, yAxisIndex: 1, symbol: 'none', showSymbol: false, z: 2,
      lineStyle: {color: '#404040', width: 1, type: [2.5, 2]}, itemStyle: {color: '#404040'}},
    {type: 'line', name: '制造业', data: c3Mfg, yAxisIndex: 0, symbol: 'none', showSymbol: false, z: 3,
      lineStyle: {color: RED, width: 2}, itemStyle: {color: RED},
      markLine: {silent: true, symbol: ['none', 'none'], label: {show: false}, lineStyle: {color: '#000', width: 1.2, type: 'solid'}, data: [{yAxis: 0}]}}
  ]
});

// ================= CHART 4 =================
mk('c4', {
  grid: grid(25.7, 43, 276, 138.3),
  legend: [lgl('产出缺口(BOJ口径)', 68, 18, 15, 7), lgl('Tankan 综合指标（右轴 逆序）', 160, 18, 23, 7)],
  xAxis: {type: 'category', data: c4Cats, boundaryGap: false, axisLine: {lineStyle: {color: '#a6a6a6'}},
    axisTick: {show: true, interval: 19, length: 2, lineStyle: {color: '#a6a6a6'}},
    axisLabel: lab(7.5, {interval: 19, formatter: v => v.slice(0, 4), margin: 4}), splitLine: noSplit},
  yAxis: [
    {type: 'value', min: -6, max: 6, interval: 2, axisLine: {show: true, lineStyle: {color: '#a6a6a6'}},
      axisTick: {show: true, length: 2, lineStyle: {color: '#a6a6a6'}}, splitLine: noSplit, axisLabel: lab(7.5, {formatter: parenPad, margin: 5})},
    {type: 'value', position: 'right', inverse: true, min: -25, max: 25, interval: 5, axisLine: {show: true, lineStyle: {color: '#a6a6a6'}},
      axisTick: {show: true, length: 2, lineStyle: {color: '#a6a6a6'}}, splitLine: noSplit, axisLabel: lab(7.5, {margin: 4})}
  ],
  series: [
    {type: 'line', name: 'Tankan 综合指标（右轴 逆序）', data: pad(77).concat(c4Tankan), yAxisIndex: 1, symbol: 'none', showSymbol: false, z: 2,
      lineStyle: {color: '#595959', width: 1, type: [2, 1.5]}, itemStyle: {color: '#595959'}},
    {type: 'line', name: '产出缺口(BOJ口径)', data: c4Gap, yAxisIndex: 0, symbol: 'none', showSymbol: false, z: 3,
      lineStyle: {color: RED, width: 1.3}, itemStyle: {color: RED},
      markLine: {silent: true, symbol: ['none', 'none'], label: {show: false}, lineStyle: {color: '#a6a6a6', width: 1, type: 'solid'},
        data: [{yAxis: 0}, [{coord: ['1997Q1', 5.6], symbol: 'none', lineStyle: {color: '#000', width: 1}},
                            {coord: ['1997Q1', 2.4], symbol: 'triangle', symbolSize: 7, symbolRotate: 180, itemStyle: {color: '#000'}}]]}}
  ]
});

// ================= CHART 5 =================
const c5Interval = (i) => i % 44 === 0 && i < 44 * c5Ticks.length;
mk('c5', {
  grid: grid(32.7, 39.7, 266.3, 153.3),
  legend: [lgl('雇员人数', 50.3, 14, 32, 9.2), lgl('正式员工（右轴）', 177, 14, 32, 9.2), lgl('非正式员工（右轴）', 50.3, 32.7, 32, 9.2)],
  xAxis: {type: 'category', data: c5Cats, boundaryGap: false, axisLine: {lineStyle: {color: '#595959'}},
    axisTick: {show: false},
    axisLabel: lab(11, {interval: c5Interval, formatter: (v, i) => c5Ticks[i / 44] || '', margin: 7}), splitLine: noSplit},
  yAxis: [
    {type: 'value', min: 62, max: 69, interval: 1, axisLine: {show: true, lineStyle: {color: '#595959'}},
      axisTick: {show: true, length: 3, lineStyle: {color: '#595959'}}, splitLine: noSplit, axisLabel: lab(11, {margin: 7})},
    {type: 'value', position: 'right', offset: 6.3, min: 85, max: 110, interval: 5, axisLine: {show: true, lineStyle: {color: '#595959'}},
      axisTick: {show: true, length: 3, lineStyle: {color: '#595959'}}, splitLine: noSplit, axisLabel: lab(11, {margin: 5})}
  ],
  series: [
    {type: 'line', name: '非正式员工（右轴）', data: pad(132).concat(c5NonReg), yAxisIndex: 1, symbol: 'none', showSymbol: false, z: 2,
      lineStyle: {color: '#BFBFBF', width: 1.5}, itemStyle: {color: '#BFBFBF'}},
    {type: 'line', name: '正式员工（右轴）', data: pad(132).concat(c5Reg), yAxisIndex: 1, symbol: 'none', showSymbol: false, z: 3,
      lineStyle: {color: '#404040', width: 1, type: [1.5, 2]}, itemStyle: {color: '#404040'}},
    {type: 'line', name: '雇员人数', data: c5Emp, yAxisIndex: 0, symbol: 'none', showSymbol: false, z: 4,
      lineStyle: {color: RED, width: 1.8}, itemStyle: {color: RED}}
  ]
});

// ================= CHART 6 =================
mk('c6', {
  grid: grid(27, 23.3, 269.5, 182),
  legend: [lgl('日本失业率', 77.7, 11, 25, 9.5), lgl('日本劳动参与率', 168.3, 11, 27, 9.5)],
  xAxis: {type: 'category', data: c6Cats, boundaryGap: false, axisLine: {lineStyle: {color: '#595959'}},
    axisTick: {show: false},
    axisLabel: lab(11, {interval: 59, formatter: v => v.slice(0, 4), margin: 6}), splitLine: noSplit},
  yAxis: [
    {type: 'value', min: 0, max: 6, interval: 1, axisLine: {show: true, lineStyle: {color: '#595959'}},
      axisTick: {show: true, length: 3, lineStyle: {color: '#595959'}}, splitLine: noSplit, axisLabel: lab(11, {margin: 8})},
    {type: 'value', position: 'right', offset: 4.5, min: 58, max: 64, interval: 1, axisLine: {show: true, lineStyle: {color: '#595959'}},
      axisTick: {show: true, length: 3, lineStyle: {color: '#595959'}}, splitLine: noSplit, axisLabel: lab(11, {margin: 7})}
  ],
  series: [
    {type: 'line', name: '日本劳动参与率', data: c6Part, yAxisIndex: 1, symbol: 'none', showSymbol: false, z: 2,
      lineStyle: {color: '#BFBFBF', width: 1.5}, itemStyle: {color: '#BFBFBF'},
      endLabel: {show: true, formatter: p => p.value.toFixed(1), color: '#BFBFBF', fontSize: 11, fontFamily: LAT, distance: 0, offset: [-29, -9]}},
    {type: 'line', name: '日本失业率', data: c6Unemp, yAxisIndex: 0, symbol: 'none', showSymbol: false, z: 3,
      lineStyle: {color: RED, width: 1.5}, itemStyle: {color: RED},
      endLabel: {show: true, formatter: p => p.value.toFixed(1), color: RED, fontWeight: 'bold', fontSize: 11, fontFamily: LAT, distance: 0, offset: [-9, -10]}}
  ]
});
</script>
</body></html>
